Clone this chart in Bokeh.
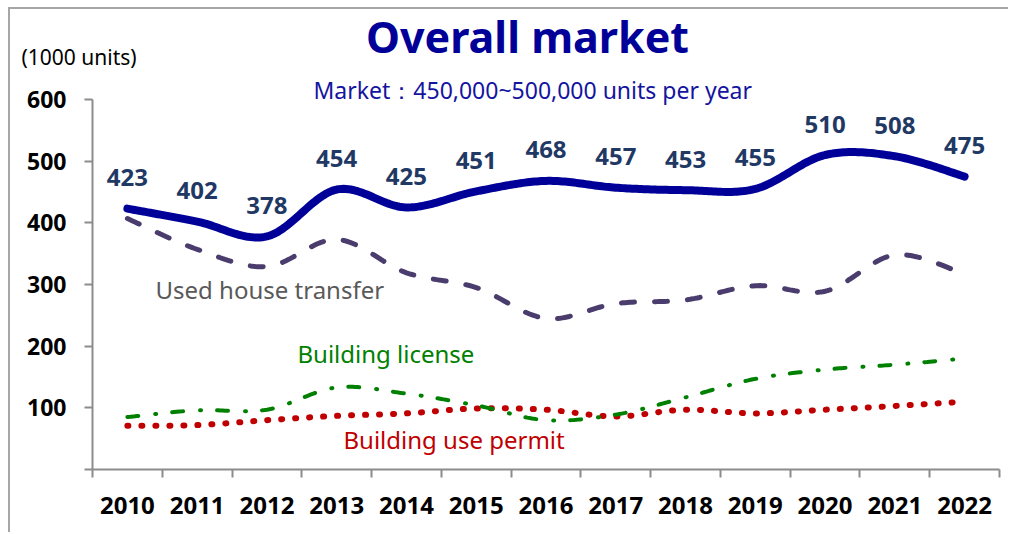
import numpy as np
from bokeh.plotting import figure
from bokeh.layouts import column
from bokeh.models import Range1d, FixedTicker, LinearAxis
from bokeh.core.properties import value
from bokeh.embed import file_html
from bokeh.resources import INLINE

# ---------------- data ----------------
years = ["2010", "2011", "2012", "2013", "2014", "2015", "2016",
         "2017", "2018", "2019", "2020", "2021", "2022"]
overall = [423, 402, 378, 454, 425, 451, 468, 457, 453, 455, 510, 508, 475]
used_house = [407, 357, 329, 373, 319, 295, 245, 269, 275, 298, 289, 348, 317]
build_license = [85, 96, 97, 133, 123, 104, 80, 89, 117, 147, 162, 170, 180]
use_permit = [71, 72, 80, 87, 91, 99, 97, 86, 97, 91, 97, 103, 110]
y_ticks = [0, 100, 200, 300, 400, 500, 600]

# ---------------- layout constants (page pixels, canvas at page 0,0) ----------------
FONT = "Noto Sans"
W, H = 1008, 532
HH = 72                                   # header strip height
FRAME_L, FRAME_R, FRAME_T, FRAME_B = 92, 999, HH, 469
PPU = 370 / 600.0                         # pixels per unit on y
frame_h = FRAME_B - FRAME_T
frame_w = FRAME_R - FRAME_L
Y_END = frame_h / PPU
N = len(years)


def px_x(page_x):
    return (page_x - FRAME_L) / frame_w * N - 0.5


def px_y(page_y):
    return (FRAME_B - page_y) / PPU


def smooth(vals, n=30):
    """Excel-like smoothed line (Catmull-Rom Bezier) through the data points."""
    P = np.column_stack([np.arange(len(vals), dtype=float), np.array(vals, float)])
    xs, ys = [], []
    for i in range(len(P) - 1):
        p0 = P[i - 1] if i > 0 else P[i]
        p1, p2 = P[i], P[i + 1]
        p3 = P[i + 2] if i + 2 < len(P) else P[i + 1]
        c1 = p1 + (p2 - p0) / 6.0
        c2 = p2 - (p3 - p1) / 6.0
        t = np.linspace(0, 1, n, endpoint=(i == len(P) - 2))[:, None]
        b = ((1 - t) ** 3) * p1 + 3 * ((1 - t) ** 2) * t * c1 + 3 * (1 - t) * t ** 2 * c2 + t ** 3 * p2
        xs.extend(b[:, 0]); ys.extend(b[:, 1])
    return xs, ys


def bare(fig):
    fig.xgrid.visible = False
    fig.ygrid.visible = False
    fig.outline_line_color = None
    fig.border_fill_color = None
    fig.frame_align = False


# ---------------- header strip: title and unit ----------------
header = figure(width=W, height=HH, x_range=Range1d(0, W), y_range=Range1d(HH, 0),
                output_backend="svg", toolbar_location=None,
                x_axis_location=None, y_axis_location=None, min_border=0)
bare(header)
header.background_fill_color = None
header.text(x=[527], y=[35.7], text=["Overall market"], text_align="center",
            text_baseline="middle", text_font=value(FONT), text_font_size="43px",
            text_font_style="bold", text_color="#000099")
header.text(x=[21], y=[56], text=["(1000 units)"], text_align="left",
            text_baseline="middle", text_font=value(FONT), text_font_size="21px",
            text_color="black")

# ---------------- main chart ----------------
p = figure(width=W, height=H - HH, x_range=Range1d(-0.5, N - 0.5), y_range=Range1d(0, Y_END),
           output_backend="svg", toolbar_location=None,
           x_axis_location=None, y_axis_location=None,
           min_border_left=FRAME_L, min_border_right=W - FRAME_R, min_border_top=0,
           min_border_bottom=H - FRAME_B)
bare(p)
p.background_fill_color = "white"

AXIS_COLOR = "#8c8c8c"

# y axis
yax = LinearAxis(bounds=(0, 600), ticker=FixedTicker(ticks=y_ticks),
                 major_label_overrides={0: ""})
yax.axis_line_color = AXIS_COLOR
yax.axis_line_width = 2
yax.major_tick_line_color = AXIS_COLOR
yax.major_tick_line_width = 2
yax.major_tick_out = 8
yax.major_tick_in = 0
yax.minor_tick_line_color = None
yax.major_label_standoff = 18
yax.major_label_text_font = FONT
yax.major_label_text_font_size = "23px"
yax.major_label_text_font_style = "bold"
yax.major_label_text_color = "black"
p.add_layout(yax, "left")

# x axis: category boundary ticks (no labels)
bounds_ticks = [i - 0.5 for i in range(N + 1)]
xax1 = LinearAxis(ticker=FixedTicker(ticks=bounds_ticks),
                  major_label_overrides={t: "" for t in bounds_ticks})
xax1.axis_line_color = AXIS_COLOR
xax1.axis_line_width = 2
xax1.major_tick_line_color = AXIS_COLOR
xax1.major_tick_line_width = 2
xax1.major_tick_out = 8
xax1.major_tick_in = 0
xax1.minor_tick_line_color = None
xax1.major_label_text_font_size = "1px"
xax1.major_label_standoff = 0
p.add_layout(xax1, "below")

# x axis: year labels at category centres
xax2 = LinearAxis(ticker=FixedTicker(ticks=list(range(N))),
                  major_label_overrides={i: y for i, y in enumerate(years)})
xax2.axis_line_color = None
xax2.major_tick_line_color = None
xax2.minor_tick_line_color = None
xax2.major_tick_out = 0
xax2.major_tick_in = 0
xax2.major_label_standoff = 19
xax2.major_label_text_font = FONT
xax2.major_label_text_font_size = "24px"
xax2.major_label_text_font_style = "bold"
xax2.major_label_text_color = "black"
p.add_layout(xax2, "below")

# ---------------- series ----------------
xs, ys = smooth(use_permit)
p.line(xs, ys, line_color="#C00000", line_width=6, line_dash="1 13", line_cap="round")

xs, ys = smooth(build_license)
p.line(xs, ys, line_color="#008000", line_width=4, line_dash="11 17 1 16", line_cap="round")

xs, ys = smooth(used_house)
p.line(xs, ys, line_color="#4A3D6E", line_width=5, line_dash="13 20", line_cap="round")

xs, ys = smooth(overall)
p.line(xs, ys, line_color="#000099", line_width=8, line_cap="round", line_join="round")

# data labels for overall market
p.text(x=list(range(N)), y=overall, text=[str(v) for v in overall],
       y_offset=-31, text_align="center", text_baseline="middle",
       text_font=value(FONT), text_font_size="24px", text_font_style="bold",
       text_color="#1F3864")


# ---------------- texts inside the chart frame ----------------
def add_text(text, page_x, page_y_mid, size, color):
    p.text(x=[px_x(page_x)], y=[px_y(page_y_mid)], text=[text], text_align="left",
           text_baseline="middle", text_font=value(FONT), text_font_size=size,
           text_color=color)


add_text("Market：450,000~500,000 units per year", 313, 89.5, "23px", "#1414A0")
add_text("Used house transfer", 155, 288.5, "24px", "#595959")
add_text("Building license", 297, 353, "24px", "#008000")
add_text("Building use permit", 343, 439, "24px", "#C00000")

page = column(header, p, spacing=0)
# thin grey chart-area border (top and left), shown through the transparent canvas
page.styles = {
    "background-image": "linear-gradient(#a6a6a6, #a6a6a6), linear-gradient(#a6a6a6, #a6a6a6)",
    "background-size": "2px calc(100% - 7px), calc(100% - 8px) 2px",
    "background-position": "8px 7px, 8px 7px",
    "background-repeat": "no-repeat",
}

open("out.html", "w").write(file_html(page, INLINE))
